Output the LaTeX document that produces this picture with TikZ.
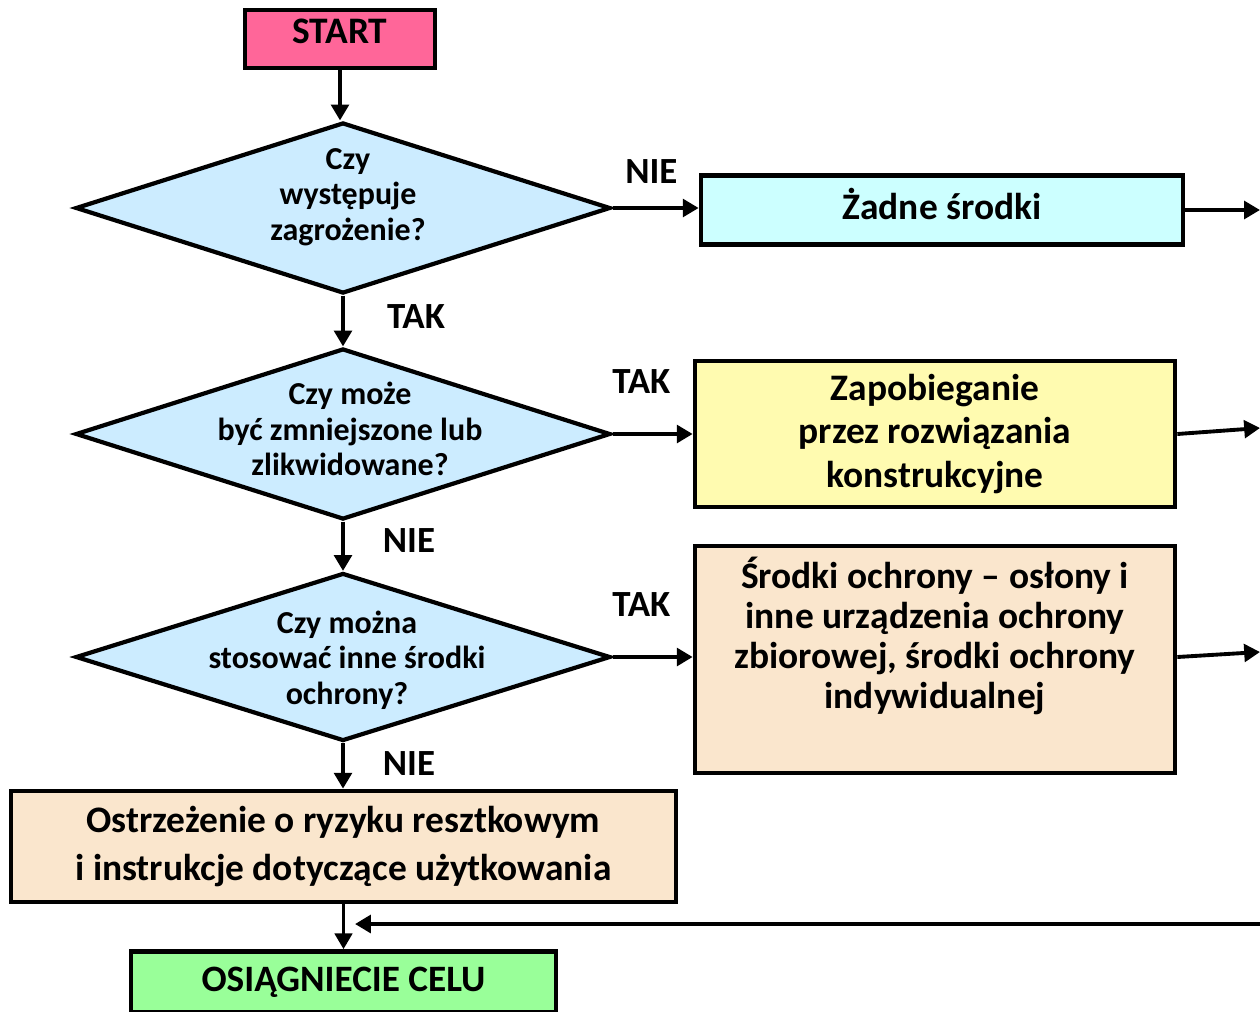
\documentclass[tikz,border=0pt]{standalone}
\usepackage{fontspec}
\setmainfont{Carlito}
\usetikzlibrary{shapes.geometric,arrows.meta}
\definecolor{StartPink}{HTML}{FF6699}
\definecolor{AskBlue}{HTML}{CCECFF}
\definecolor{NoneCyan}{HTML}{CCFFFF}
\definecolor{DesignYellow}{HTML}{FFFBB0}
\definecolor{GuardTan}{HTML}{FAE6CD}
\definecolor{GoalGreen}{HTML}{99FF99}

\begin{document}
\begin{tikzpicture}[x=0.02cm,y=-0.02cm,
    box/.style={draw=black,line width=2.7pt,rectangle,inner sep=0pt,align=center,
        font=\bfseries\fontsize{21.3}{25}\selectfont},
    ask/.style={draw=black,line width=2.4pt,diamond,inner sep=0pt,fill=AskBlue,minimum width=10.7cm},
    asktext/.style={inner sep=0pt,align=center,font=\bfseries\fontsize{18.2}{20.2}\selectfont},
    answer/.style={inner sep=0pt,font=\bfseries\fontsize{21}{22}\selectfont},
    flow/.style={line width=2.2pt,-{Triangle[length=9pt,width=10pt]}}]
    \useasboundingbox (0,0) rectangle (1260,1011);

%   boxes
    \node[box,fill=StartPink,minimum width=3.8cm,minimum height=1.16cm,text depth=0.32cm] (start) at (340,39) {START};
    \node[box,fill=NoneCyan,minimum width=9.64cm,minimum height=1.38cm,text depth=0.24cm] (none) at (942,210) {Żadne środki};
    \node[box,fill=DesignYellow,minimum width=9.6cm,minimum height=2.92cm] (design) at (935,434)
        {Zapobieganie\\przez rozwiązania\\konstrukcyjne};
    \node[box,fill=GuardTan,minimum width=9.6cm,minimum height=4.54cm] (guard) at (935,659.5) {};
    \node[box,draw=none,fill=none,font=\bfseries\fontsize{21.3}{22.7}\selectfont] (guardt) at (935,636)
        {Środki ochrony – osłony i\\inne urządzenia ochrony\\zbiorowej, środki ochrony\\indywidualnej};
    \node[box,fill=GuardTan,minimum width=13.3cm,minimum height=2.22cm,font=\bfseries\fontsize{21.3}{27.2}\selectfont] (warn) at (343.5,846.5)
        {Ostrzeżenie o ryzyku resztkowym\\i instrukcje dotyczące użytkowania};
    \node[box,fill=GoalGreen,minimum width=8.5cm,minimum height=1.22cm,font=\bfseries\fontsize{21.2}{22}\selectfont] (goal) at (343.5,982)
        {OSIĄGNIECIE CELU};

%   questions
    \node[ask,minimum height=3.42cm] (q1) at (343,208) {};
    \node[asktext] (q1t) at (348,197) {Czy\\występuje\\zagrożenie?};
    \node[ask,minimum height=3.42cm] (q2) at (343,434) {};
    \node[asktext] (q2t) at (350,429) {Czy może\\być zmniejszone lub\\zlikwidowane?};
    \node[ask,minimum height=3.36cm] (q3) at (343,657) {};
    \node[asktext] (q3t) at (347,660) {Czy można\\stosować inne środki\\ochrony?};

%   free ends
    \coordinate (out1) at (1260,210);
    \coordinate (out2) at (1260,428);
    \coordinate (out3) at (1260,652);
    \coordinate (back) at (1260,924);
    \coordinate (join) at (355,924);

%   arrows
    \draw[flow] (start.south) -- (start.south |- q1.north);
    \draw[flow] (q1.east) -- (q1.east -| none.west) node[answer,pos=0.45,yshift=0.72cm] (a1) {NIE};
    \draw[flow] (q1.south) -- (q2.north) node[answer,pos=0.41,xshift=1.46cm] (a2) {TAK};
    \draw[flow] (q2.east) -- (q2.east -| design.west) node[answer,pos=0.36,yshift=1.04cm] (a3) {TAK};
    \draw[flow] (q2.south) -- (q3.north) node[answer,pos=0.38,xshift=1.32cm] (a4) {NIE};
    \draw[flow] (q3.east) -- (q3.east -| guard.west) node[answer,pos=0.36,yshift=1.04cm] (a5) {TAK};
    \draw[flow] (q3.south) -- (q3.south |- warn.north) node[answer,pos=0.44,xshift=1.32cm] (a6) {NIE};
    \draw[flow,line width=1.8pt] (warn.south) -- (goal.north);
    \draw[flow] (none.east) -- (out1);
    \draw[flow] (design.east) -- (out2);
    \draw[flow] ([yshift=0.05cm]guard.east) -- (out3);
    \draw[flow,line width=2.8pt] (back) -- (join);
\end{tikzpicture}
\end{document}
